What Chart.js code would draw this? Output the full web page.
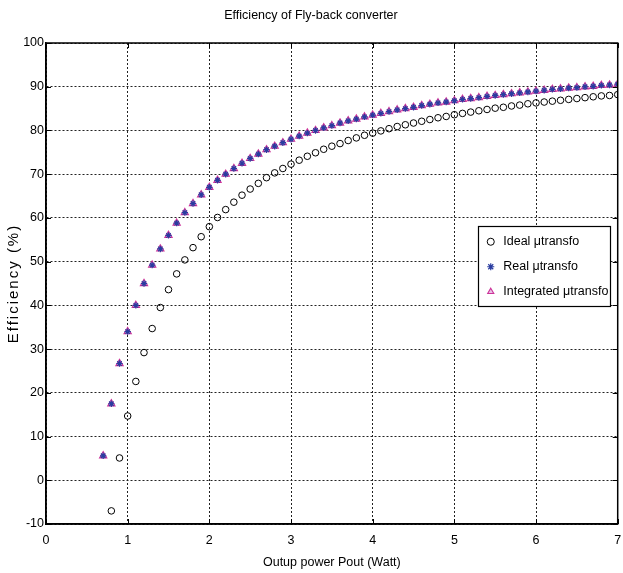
<!DOCTYPE html>
<html><head><meta charset="utf-8">
<script src="https://cdn.jsdelivr.net/npm/chart.js@4/dist/chart.umd.min.js"></script>
<style>html,body{margin:0;padding:0;background:#fff}canvas{display:block}</style>
</head><body>
<canvas id="c" width="623" height="573"></canvas>
<script>
// ---- data ----
const chartTitle = 'Efficiency of Fly-back converter';
const xAxisTitle = 'Outup power Pout (Watt)';
const yAxisTitle = 'Efficiency (%)';
const seriesNames = ['Ideal μtransfo', 'Real μtransfo', 'Integrated μtransfo'];
const xTickValues = [0, 1, 2, 3, 4, 5, 6, 7];
const yTickValues = [-10, 0, 10, 20, 30, 40, 50, 60, 70, 80, 90, 100];
const powerW = [0.7, 0.8, 0.9, 1.0,
  1.1, 1.2, 1.3, 1.4, 1.5, 1.6, 1.7, 1.8, 1.9, 2.0,
  2.1, 2.2, 2.3, 2.4, 2.5, 2.6, 2.7, 2.8, 2.9, 3.0,
  3.1, 3.2, 3.3, 3.4, 3.5, 3.6, 3.7, 3.8, 3.9, 4.0,
  4.1, 4.2, 4.3, 4.4, 4.5, 4.6, 4.7, 4.8, 4.9, 5.0,
  5.1, 5.2, 5.3, 5.4, 5.5, 5.6, 5.7, 5.8, 5.9, 6.0,
  6.1, 6.2, 6.3, 6.4, 6.5, 6.6, 6.7, 6.8, 6.9, 7.0];
const idealEff = [null, -7.0, 5.1, 14.7,
  22.6, 29.2, 34.7, 39.5, 43.6, 47.2, 50.4, 53.2, 55.7, 58.0,
  60.1, 61.9, 63.6, 65.2, 66.6, 67.9, 69.2, 70.3, 71.3, 72.3,
  73.2, 74.1, 74.9, 75.7, 76.4, 77.0, 77.7, 78.3, 78.9, 79.4,
  79.9, 80.4, 80.9, 81.3, 81.7, 82.1, 82.5, 82.9, 83.2, 83.6,
  83.9, 84.2, 84.5, 84.8, 85.1, 85.3, 85.6, 85.8, 86.1, 86.3,
  86.5, 86.7, 86.9, 87.1, 87.3, 87.5, 87.7, 87.9, 88.0, 88.2];
const realEff = [5.6, 17.5, 26.7, 34.0,
  40.0, 45.0, 49.2, 52.9, 56.0, 58.8, 61.2, 63.3, 65.3, 67.0,
  68.6, 70.0, 71.3, 72.5, 73.6, 74.6, 75.6, 76.4, 77.2, 78.0,
  78.7, 79.4, 80.0, 80.6, 81.1, 81.7, 82.2, 82.6, 83.1, 83.5,
  83.9, 84.3, 84.7, 85.0, 85.3, 85.7, 86.0, 86.3, 86.5, 86.8,
  87.1, 87.3, 87.5, 87.8, 88.0, 88.2, 88.4, 88.6, 88.8, 89.0,
  89.2, 89.4, 89.5, 89.7, 89.8, 90.0, 90.1, 90.3, 90.4, 90.6];
const integratedEff = [5.6, 17.5, 26.7, 34.0,
  40.0, 45.0, 49.2, 52.9, 56.0, 58.8, 61.2, 63.3, 65.3, 67.0,
  68.6, 70.0, 71.3, 72.5, 73.6, 74.6, 75.6, 76.4, 77.2, 78.0,
  78.7, 79.4, 80.0, 80.6, 81.1, 81.7, 82.2, 82.6, 83.1, 83.5,
  83.9, 84.3, 84.7, 85.0, 85.3, 85.7, 86.0, 86.3, 86.5, 86.8,
  87.1, 87.3, 87.5, 87.8, 88.0, 88.2, 88.4, 88.6, 88.8, 89.0,
  89.2, 89.4, 89.5, 89.7, 89.8, 90.0, 90.1, 90.3, 90.4, 90.6];

// ---- styling ----
const NARROW = '"Liberation Sans Narrow","Arial Narrow","Liberation Sans",Arial,sans-serif';
const REGULAR = '"Liberation Sans",Arial,sans-serif';
const FS = 12.5;
const toPoints = (ys) => powerW.map((x, i) => ({x: x, y: ys[i]})).filter(p => p.y !== null);

const LEG = {x: 478, y: 226, w: 132, h: 80};

const framePlugin = {
  id: 'frame',
  afterLayout(chart) {
    const lg = chart.legend;
    if (lg) {
      lg.left = 472; lg.top = 223; lg.right = 622; lg.bottom = 524;
      lg.width = lg.right - lg.left; lg.height = lg.bottom - lg.top;
      if (!lg._boxWrapped) {
        const orig = lg.draw;
        lg.draw = function () {
          const ctx = this.ctx;
          ctx.save();
          ctx.fillStyle = '#fff';
          ctx.fillRect(LEG.x, LEG.y, LEG.w, LEG.h);
          ctx.strokeStyle = '#000';
          ctx.lineWidth = 1.2;
          ctx.strokeRect(LEG.x + 0.5, LEG.y + 0.5, LEG.w, LEG.h);
          ctx.restore();
          return orig.apply(this, arguments);
        };
        lg._boxWrapped = true;
      }
    }
    const ys = chart.scales.y;
    if (ys && !ys._lsWrapped) {
      const o = ys.drawTitle;
      ys.drawTitle = function () {
        const ctx = this.ctx;
        ctx.save();
        ctx.letterSpacing = '2px';
        o.apply(this, arguments);
        ctx.restore();
      };
      ys._lsWrapped = true;
    }
  },
  afterDraw(chart) {
    const ctx = chart.ctx;
    const {left, right, top, bottom} = chart.chartArea;
    ctx.save();
    ctx.strokeStyle = '#000';
    ctx.lineWidth = 1;
    ctx.beginPath();
    chart.scales.x.ticks.forEach(t => {
      const px = Math.round(chart.scales.x.getPixelForValue(t.value)) + 0.5;
      ctx.moveTo(px, bottom); ctx.lineTo(px, bottom - 5);
      ctx.moveTo(px, top); ctx.lineTo(px, top + 5);
    });
    chart.scales.y.ticks.forEach(t => {
      const py = Math.round(chart.scales.y.getPixelForValue(t.value)) + 0.5;
      ctx.moveTo(left, py); ctx.lineTo(left + 5, py);
      ctx.moveTo(right, py); ctx.lineTo(right - 5, py);
    });
    ctx.stroke();
    ctx.lineWidth = 1.5;
    ctx.strokeRect(left, top, right - left, bottom - top);
    ctx.restore();
  }
};

new Chart(document.getElementById('c'), {
  type: 'scatter',
  data: {
    datasets: [
      {
        label: seriesNames[0],
        data: toPoints(idealEff),
        pointStyle: 'circle',
        pointRadius: 3.3,
        pointBorderWidth: 1,
        borderColor: '#000',
        backgroundColor: 'rgba(0,0,0,0)',
        pointBorderColor: '#000',
        pointBackgroundColor: 'rgba(0,0,0,0)',
        showLine: false
      },
      {
        label: seriesNames[1],
        data: toPoints(realEff),
        pointStyle: 'star',
        pointRadius: 3.2,
        pointBorderWidth: 1.2,
        borderColor: '#2a3ca0',
        backgroundColor: '#2a3ca0',
        pointBorderColor: '#2a3ca0',
        pointBackgroundColor: '#2a3ca0',
        showLine: false
      },
      {
        label: seriesNames[2],
        data: toPoints(integratedEff),
        pointStyle: 'triangle',
        pointRadius: 4.2,
        pointBorderWidth: 1.1,
        borderColor: '#cc3399',
        backgroundColor: 'rgba(205,120,200,0.45)',
        pointBorderColor: '#cc3399',
        pointBackgroundColor: 'rgba(205,120,200,0.45)',
        showLine: false
      }
    ]
  },
  options: {
    responsive: false,
    animation: false,
    events: [],
    layout: {padding: {left: 0, right: 1, top: 0, bottom: 0}},
    plugins: {
      title: {
        display: true,
        text: chartTitle,
        color: '#000',
        font: {family: NARROW, size: FS, weight: 'normal'},
        padding: {top: 8, bottom: 20}
      },
      legend: {
        display: true,
        position: 'chartArea',
        align: 'start',
        labels: {
          usePointStyle: true,
          boxWidth: 13,
          boxHeight: 5,
          padding: 12.5,
          color: '#000',
          font: {family: NARROW, size: FS}
        }
      },
      tooltip: {enabled: false}
    },
    scales: {
      x: {
        type: 'linear',
        min: xTickValues[0],
        max: xTickValues[xTickValues.length - 1],
        afterBuildTicks: (s) => { s.ticks = xTickValues.map(v => ({value: v})); },
        afterFit: (s) => { s.height = 49; s.paddingLeft = 0; s.paddingRight = 0; },
        ticks: {color: '#000', padding: 9, maxRotation: 0, font: {family: NARROW, size: FS}},
        grid: {color: '#222', lineWidth: 1, drawTicks: false},
        border: {display: true, color: '#000', width: 1.5, dash: [2, 2]},
        title: {display: true, text: xAxisTitle, color: '#000', font: {family: NARROW, size: FS}, padding: {top: 0, bottom: 2.5}}
      },
      y: {
        type: 'linear',
        min: yTickValues[0],
        max: yTickValues[yTickValues.length - 1],
        afterBuildTicks: (s) => { s.ticks = yTickValues.map(v => ({value: v})); },
        afterFit: (s) => { s.width = 46; s.paddingTop = 0; s.paddingBottom = 0; },
        ticks: {color: '#000', padding: 2, font: {family: NARROW, size: FS}},
        grid: {color: '#222', lineWidth: 1, drawTicks: false},
        border: {display: true, color: '#000', width: 1.5, dash: [2, 2]},
        title: {display: true, text: yAxisTitle, color: '#000', font: {family: REGULAR, size: 15}, padding: {top: 5, bottom: 0}}
      }
    }
  },
  plugins: [framePlugin]
});
</script>
</body></html>
